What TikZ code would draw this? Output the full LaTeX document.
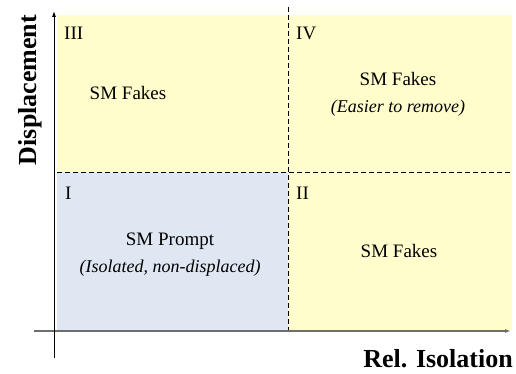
\documentclass[tikz,border=0pt]{standalone}
\usepackage{fontspec}
\setmainfont{Liberation Serif}
\usetikzlibrary{arrows.meta}
\definecolor{quadyellow}{RGB}{255,253,204}
\definecolor{quadblue}{RGB}{223,231,243}
\definecolor{axisgray}{RGB}{110,110,110}
\newcommand{\notefont}{\fontsize{18}{27}\selectfont\itshape}
\begin{document}
\begin{tikzpicture}[x=1pt,y=-1pt,
    quad/.style={inner sep=0pt,minimum height=157pt},
    numeral/.style={anchor=base west,inner sep=0pt,font=\fontsize{19}{22}\selectfont},
    txt/.style={align=center,inner sep=0pt,font=\fontsize{19}{27}\selectfont},
    axislabel/.style={inner sep=0pt,font=\bfseries\fontsize{26}{30}\selectfont}]
  \useasboundingbox (0,0) rectangle (516,374);
  % quadrants
  \node[quad,fill=quadyellow,minimum width=231pt] (III) at (172.5,93.5) {};
  \node[quad,fill=quadyellow,minimum width=224pt] (IV) at (400,93.5) {};
  \node[quad,fill=quadblue,minimum width=231pt,minimum height=158pt] (I) at (172.5,251) {};
  \node[quad,fill=quadyellow,minimum width=224pt,minimum height=158pt] (II) at (400,251) {};
  % dividers
  \coordinate (vtop) at (288,7);
  \coordinate (vbot) at (288,330);
  \coordinate (hleft) at (57,172);
  \coordinate (hright) at (512,172);
  \begin{scope}[dash pattern=on 5pt off 3pt,thick]
    \draw (vtop) -- (vbot);
    \draw (hleft) -- (hright);
  \end{scope}
  % axes
  \coordinate (xstart) at (34,331);
  \coordinate (xend) at (511,331);
  \coordinate (ystart) at (54,358);
  \coordinate (yend) at (54,11);
  \draw[axisgray,line width=1.2pt,-{Latex[length=6pt,width=4pt]}] (xstart) -- (xend);
  \draw[line width=0.9pt,-{Latex[length=6pt,width=4pt]}] (ystart) -- (yend);
  % labels
  \node[numeral] (n3) at (64,40) {III};
  \node[numeral] (n4) at (296,40) {IV};
  \node[numeral] (n1) at (65,199) {I};
  \node[numeral] (n2) at (296,199) {II};
  \node[txt] (t3) at (128,93) {SM Fakes};
  \node[txt] (t4) at (398,94) {SM Fakes\\{\notefont (Easier to remove)}};
  \node[txt] (t1) at (170,255) {SM Prompt\\{\notefont (Isolated, non-displaced)}};
  \node[txt] (t2) at (399,251) {SM Fakes};
  \node[axislabel,rotate=90,anchor=base] (ylab) at (36,90) {Displacement};
  \node[axislabel,anchor=base east] (xlab) at (513,367) {Rel. Isolation};
\end{tikzpicture}
\end{document}
